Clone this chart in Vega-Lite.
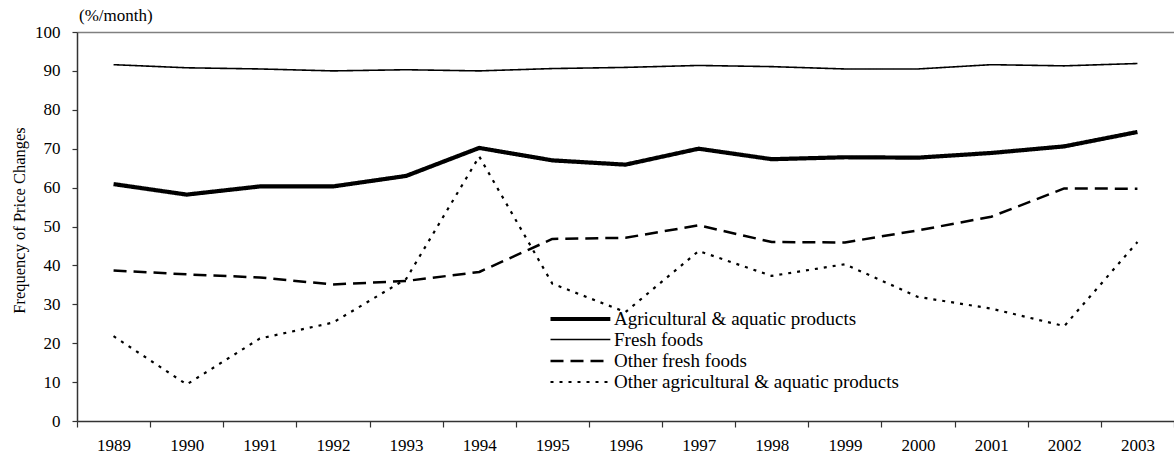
{
  "$schema": "https://vega.github.io/schema/vega-lite/v6.json",
  "width": 1097,
  "height": 389,
  "autosize": {"type": "none"},
  "padding": {"left": 77, "top": 32, "right": 0, "bottom": 38},
  "background": "white",
  "config": {
    "font": "Liberation Serif",
    "view": {"stroke": null},
    "axis": {"labelFont": "Liberation Serif", "titleFont": "Liberation Serif", "labelColor": "black", "titleColor": "black", "domainColor": "#333333", "tickColor": "#333333", "labelFontSize": 17, "titleFontSize": 16.5, "titleFontWeight": "normal"},
    "legend": {"labelFont": "Liberation Serif", "titleFont": "Liberation Serif", "labelFontSize": 19, "labelColor": "black"}
  },
  "title": {"text": "(%/month)", "anchor": "start", "frame": "group", "dx": 2, "dy": 10, "offset": 8, "fontSize": 17, "fontWeight": "normal", "font": "Liberation Serif", "color": "black"},
  "data": {
    "values": [
      {"year": "1989", "series": "Agricultural & aquatic products", "value": 60.9},
      {"year": "1990", "series": "Agricultural & aquatic products", "value": 58.2},
      {"year": "1991", "series": "Agricultural & aquatic products", "value": 60.3},
      {"year": "1992", "series": "Agricultural & aquatic products", "value": 60.3},
      {"year": "1993", "series": "Agricultural & aquatic products", "value": 63.0},
      {"year": "1994", "series": "Agricultural & aquatic products", "value": 70.2},
      {"year": "1995", "series": "Agricultural & aquatic products", "value": 67.0},
      {"year": "1996", "series": "Agricultural & aquatic products", "value": 65.9},
      {"year": "1997", "series": "Agricultural & aquatic products", "value": 70.0},
      {"year": "1998", "series": "Agricultural & aquatic products", "value": 67.3},
      {"year": "1999", "series": "Agricultural & aquatic products", "value": 67.8},
      {"year": "2000", "series": "Agricultural & aquatic products", "value": 67.7},
      {"year": "2001", "series": "Agricultural & aquatic products", "value": 68.9},
      {"year": "2002", "series": "Agricultural & aquatic products", "value": 70.6},
      {"year": "2003", "series": "Agricultural & aquatic products", "value": 74.3},
      {"year": "1989", "series": "Fresh foods", "value": 91.6},
      {"year": "1990", "series": "Fresh foods", "value": 90.8},
      {"year": "1991", "series": "Fresh foods", "value": 90.5},
      {"year": "1992", "series": "Fresh foods", "value": 90.0},
      {"year": "1993", "series": "Fresh foods", "value": 90.3},
      {"year": "1994", "series": "Fresh foods", "value": 90.0},
      {"year": "1995", "series": "Fresh foods", "value": 90.6},
      {"year": "1996", "series": "Fresh foods", "value": 90.9},
      {"year": "1997", "series": "Fresh foods", "value": 91.4},
      {"year": "1998", "series": "Fresh foods", "value": 91.1},
      {"year": "1999", "series": "Fresh foods", "value": 90.5},
      {"year": "2000", "series": "Fresh foods", "value": 90.5},
      {"year": "2001", "series": "Fresh foods", "value": 91.6},
      {"year": "2002", "series": "Fresh foods", "value": 91.3},
      {"year": "2003", "series": "Fresh foods", "value": 91.9},
      {"year": "1989", "series": "Other fresh foods", "value": 38.7},
      {"year": "1990", "series": "Other fresh foods", "value": 37.7},
      {"year": "1991", "series": "Other fresh foods", "value": 36.9},
      {"year": "1992", "series": "Other fresh foods", "value": 35.1},
      {"year": "1993", "series": "Other fresh foods", "value": 36.0},
      {"year": "1994", "series": "Other fresh foods", "value": 38.3},
      {"year": "1995", "series": "Other fresh foods", "value": 46.8},
      {"year": "1996", "series": "Other fresh foods", "value": 47.1},
      {"year": "1997", "series": "Other fresh foods", "value": 50.3},
      {"year": "1998", "series": "Other fresh foods", "value": 46.0},
      {"year": "1999", "series": "Other fresh foods", "value": 45.9},
      {"year": "2000", "series": "Other fresh foods", "value": 49.0},
      {"year": "2001", "series": "Other fresh foods", "value": 52.5},
      {"year": "2002", "series": "Other fresh foods", "value": 59.8},
      {"year": "2003", "series": "Other fresh foods", "value": 59.7},
      {"year": "1989", "series": "Other agricultural & aquatic products", "value": 21.8},
      {"year": "1990", "series": "Other agricultural & aquatic products", "value": 9.4},
      {"year": "1991", "series": "Other agricultural & aquatic products", "value": 21.2},
      {"year": "1992", "series": "Other agricultural & aquatic products", "value": 25.3},
      {"year": "1993", "series": "Other agricultural & aquatic products", "value": 36.5},
      {"year": "1994", "series": "Other agricultural & aquatic products", "value": 68.0},
      {"year": "1995", "series": "Other agricultural & aquatic products", "value": 35.3},
      {"year": "1996", "series": "Other agricultural & aquatic products", "value": 28.0},
      {"year": "1997", "series": "Other agricultural & aquatic products", "value": 43.7},
      {"year": "1998", "series": "Other agricultural & aquatic products", "value": 37.3},
      {"year": "1999", "series": "Other agricultural & aquatic products", "value": 40.3},
      {"year": "2000", "series": "Other agricultural & aquatic products", "value": 31.9},
      {"year": "2001", "series": "Other agricultural & aquatic products", "value": 28.9},
      {"year": "2002", "series": "Other agricultural & aquatic products", "value": 24.4},
      {"year": "2003", "series": "Other agricultural & aquatic products", "value": 46.0}
    ]
  },
  "mark": {"type": "line", "color": "black", "strokeCap": "butt", "strokeJoin": "round"},
  "encoding": {
    "x": {
      "field": "year", "type": "ordinal", "title": null,
      "scale": {"paddingInner": 0, "paddingOuter": 0},
      "axis": {"labelAngle": 0, "tickBand": "extent", "tickSize": 6, "labelPadding": 10, "domainWidth": 1.5, "tickWidth": 1.2}
    },
    "y": {
      "field": "value", "type": "quantitative",
      "title": "Frequency of Price Changes",
      "scale": {"domain": [0, 100], "nice": false},
      "axis": {
        "values": [0, 10, 20, 30, 40, 50, 60, 70, 80, 90, 100],
        "tickSize": 5, "labelPadding": 12, "domainWidth": 1.5, "tickWidth": 1.2,
        "grid": true, "gridColor": "#808080", "gridWidth": 1.5,
        "gridOpacity": {"condition": {"test": "datum.value == 100", "value": 1}, "value": 0},
        "titleX": -50, "titleY": 188
      }
    },
    "strokeDash": {
      "field": "series", "type": "nominal",
      "scale": {
        "domain": ["Agricultural & aquatic products", "Fresh foods", "Other fresh foods", "Other agricultural & aquatic products"],
        "range": [[1, 0], [1, 0], [13, 7], [3, 6]]
      },
      "legend": {
        "title": null, "orient": "none", "legendX": 471, "legendY": 275,
        "symbolType": "M-1,0H5.3", "symbolSize": 361, "symbolStrokeColor": "black", "symbolFillColor": "transparent",
        "labelFont": "Liberation Serif", "labelFontSize": 19, "labelColor": "black",
        "labelOffset": 42, "rowPadding": 0, "padding": 0, "labelLimit": 400
      }
    },
    "strokeWidth": {
      "field": "series", "type": "nominal",
      "scale": {
        "type": "ordinal",
        "domain": ["Agricultural & aquatic products", "Fresh foods", "Other fresh foods", "Other agricultural & aquatic products"],
        "range": [4.2, 1.6, 2.5, 2.2]
      },
      "legend": {
        "title": null, "orient": "none", "legendX": 471, "legendY": 275,
        "symbolType": "M-1,0H5.3", "symbolSize": 361, "symbolStrokeColor": "black", "symbolFillColor": "transparent",
        "labelFont": "Liberation Serif", "labelFontSize": 19, "labelColor": "black",
        "labelOffset": 42, "rowPadding": 0, "padding": 0, "labelLimit": 400
      }
    }
  }
}
